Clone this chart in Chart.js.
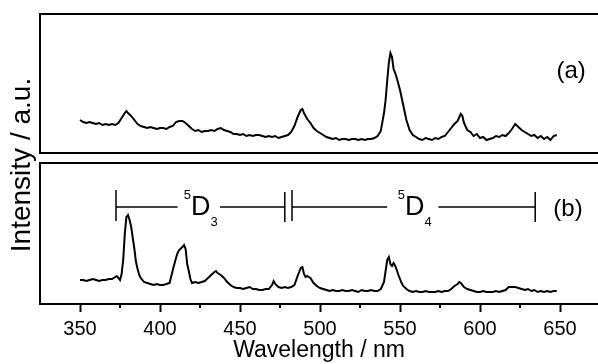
<!DOCTYPE html>
<html>
<head>
<meta charset="utf-8">
<script src="https://cdn.jsdelivr.net/npm/chart.js@4"></script>
<style>
html, body { margin: 0; padding: 0; background: #fff; }
canvas { display: block; }
</style>
</head>
<body>
<canvas id="chart1" width="598" height="364"></canvas>
<script>
// panel (a)
var wavelengthA = [350, 352, 354, 356, 358, 360, 362, 364, 366, 368, 370, 372, 374, 376, 378, 379, 380, 382, 384, 386, 388, 390, 392, 394, 396, 398, 400, 402, 404, 406, 408, 410, 412, 414, 416, 418, 420, 422, 424, 426, 428, 430, 432, 434, 436, 438, 440, 442, 444, 446, 448, 450, 452, 454, 456, 458, 460, 462, 464, 466, 468, 470, 472, 474, 476, 478, 480, 482, 484, 486, 488, 489, 490, 492, 494, 496, 498, 500, 502, 504, 506, 508, 510, 512, 514, 516, 518, 520, 522, 524, 526, 528, 530, 532, 534, 536, 538, 540, 541, 542, 543, 544, 545, 546, 547, 548, 550, 552, 554, 556, 558, 560, 562, 564, 566, 568, 570, 572, 574, 576, 578, 580, 582, 584, 586, 588, 589, 590, 592, 594, 596, 598, 600, 602, 604, 606, 608, 610, 612, 614, 616, 618, 620, 622, 624, 626, 628, 630, 632, 634, 636, 638, 640, 642, 644, 646, 648];
var intensityA = [33, 31, 30, 31, 30, 29, 30, 28, 29, 28, 29, 28, 30, 35, 40, 42, 40, 37, 33, 29, 27, 26, 25, 26, 25, 24, 25, 25, 24, 26, 27, 31, 32, 32, 30, 27, 24, 22, 23, 21, 22, 22, 23, 22, 24, 25, 23, 22, 21, 19, 19, 18, 19, 17, 18, 17, 18, 18, 17, 16, 17, 16, 17, 15, 16, 17, 18, 21, 27, 36, 43, 44, 40, 34, 30, 25, 22, 20, 18, 16, 15, 14, 15, 13, 14, 14, 13, 14, 14, 13, 14, 13, 14, 14, 15, 17, 22, 40, 53, 72, 90, 100, 96, 84, 80, 75, 63, 48, 33, 23, 18, 16, 14, 13, 15, 14, 13, 15, 14, 16, 17, 21, 25, 29, 32, 39, 37, 30, 23, 21, 17, 19, 15, 16, 13, 14, 15, 17, 16, 18, 17, 20, 24, 29, 26, 23, 21, 19, 17, 18, 15, 17, 14, 16, 13, 17, 18];

// panel (b)
var wavelengthB = [350, 352, 354, 356, 358, 360, 362, 364, 366, 368, 370, 372, 373, 374, 375, 376, 377, 378, 379, 380, 381, 382, 383, 384, 385, 386, 387, 388, 390, 392, 394, 396, 398, 400, 402, 404, 406, 408, 410, 411, 412, 414, 415, 416, 417, 418, 419, 420, 422, 424, 426, 428, 430, 432, 434, 435, 436, 438, 440, 442, 444, 446, 448, 450, 452, 454, 456, 458, 460, 462, 464, 466, 468, 470, 471, 472, 474, 476, 478, 480, 482, 484, 486, 488, 489, 490, 491, 492, 493, 494, 496, 498, 500, 502, 504, 506, 508, 510, 512, 514, 516, 518, 520, 522, 524, 526, 528, 530, 532, 534, 536, 538, 540, 541, 542, 543, 544, 545, 546, 547, 548, 549, 550, 551, 552, 554, 556, 558, 560, 562, 564, 566, 568, 570, 572, 574, 576, 578, 580, 582, 584, 586, 587, 588, 590, 592, 594, 596, 598, 600, 602, 604, 606, 608, 610, 612, 614, 616, 618, 620, 622, 624, 626, 628, 630, 632, 634, 636, 638, 640, 642, 644, 646, 648];
var intensityB = [24, 24, 23, 24, 25, 24, 23, 24, 24, 25, 25, 27, 28, 26, 24, 30, 44, 70, 87, 89, 84, 77, 66, 55, 42, 35, 29, 26, 22, 21, 20, 19, 20, 19, 19, 20, 21, 34, 46, 51, 54, 57, 59, 55, 40, 33, 25, 21, 22, 21, 22, 23, 26, 29, 32, 33, 31, 29, 26, 22, 19, 17, 16, 16, 15, 16, 17, 15, 15, 14, 14, 15, 15, 19, 23, 20, 17, 16, 17, 16, 17, 19, 28, 36, 37, 30, 27, 28, 27, 26, 21, 18, 16, 15, 14, 13, 14, 13, 13, 14, 13, 13, 14, 13, 12, 14, 13, 13, 14, 13, 13, 15, 22, 33, 44, 47, 40, 38, 41, 38, 34, 29, 25, 21, 18, 15, 13, 12, 13, 12, 12, 13, 12, 12, 12, 13, 12, 13, 13, 15, 18, 20, 22, 21, 17, 15, 14, 13, 12, 12, 13, 12, 12, 12, 13, 12, 13, 14, 17, 17, 17, 16, 15, 14, 15, 13, 14, 12, 13, 12, 13, 12, 13, 13];

var majorTicks = [350, 400, 450, 500, 550, 600, 650];
var minorTicks = [375, 425, 475, 525, 575, 625];
var xTitle = "Wavelength / nm";
var yTitle = "Intensity / a.u.";
var panelLabels = ["(a)", "(b)"];
var levels = [{ sup: "5", main: "D", sub: "3" }, { sup: "5", main: "D", sub: "4" }];

function toPoints(xs, ys) {
	return xs.map(function (v, i) { return { x: v, y: ys[i] }; });
}

// bracket geometry in data units (nm / intensity of panel b)
var bracketY = 97;
var brackets = [
	{ from: 372.5, gapFrom: 411, gapTo: 437.5, to: 478 },
	{ from: 482.5, gapFrom: 542, gapTo: 574, to: 634.5 }
];

var decorations = {
	id: "decorations",
	afterDraw: function (chart) {
		var c = chart.ctx;
		var area = chart.chartArea;
		var x = chart.scales.x, ya = chart.scales.ya, yb = chart.scales.yb;
		c.save();
		c.strokeStyle = "#000";
		c.fillStyle = "#000";

		// panel frames + minor ticks
		c.lineWidth = 2;
		c.beginPath();
		[ya.top, ya.bottom, yb.top].forEach(function (y) {
			c.moveTo(area.left - 1, y);
			c.lineTo(area.right, y);
		});
		minorTicks.forEach(function (v) {
			var px = x.getPixelForValue(v);
			c.moveTo(px, x.top);
			c.lineTo(px, x.top + 4);
		});
		c.stroke();

		// 5D3 / 5D4 brackets
		var by = yb.getPixelForValue(bracketY);
		c.lineWidth = 1.5;
		c.beginPath();
		brackets.forEach(function (b) {
			var x0 = x.getPixelForValue(b.from), x1 = x.getPixelForValue(b.gapFrom);
			var x2 = x.getPixelForValue(b.gapTo), x3 = x.getPixelForValue(b.to);
			c.moveTo(x0, by); c.lineTo(x1, by);
			c.moveTo(x2, by); c.lineTo(x3, by);
			c.moveTo(x0, by - 17); c.lineTo(x0, by + 14);
			c.moveTo(x3, by - 15); c.lineTo(x3, by + 15);
		});
		c.stroke();

		c.textBaseline = "middle";
		c.textAlign = "left";
		brackets.forEach(function (b, i) {
			var lv = levels[i];
			c.font = "13px 'Liberation Sans', Arial, sans-serif";
			var w1 = c.measureText(lv.sup).width, w3 = c.measureText(lv.sub).width;
			c.font = "27px 'Liberation Sans', Arial, sans-serif";
			var w2 = c.measureText(lv.main).width;
			var cx = (x.getPixelForValue(b.gapFrom) + x.getPixelForValue(b.gapTo)) / 2 + 2;
			var left = cx - (w1 + w2 + w3) / 2;
			c.fillText(lv.main, left + w1, by + 1);
			c.font = "13px 'Liberation Sans', Arial, sans-serif";
			c.fillText(lv.sup, left, by - 12);
			c.fillText(lv.sub, left + w1 + w2, by + 15);
		});

		// panel labels
		c.font = "24px 'Liberation Sans', Arial, sans-serif";
		c.textAlign = "center";
		c.fillText(panelLabels[0], x.getPixelForValue(657), ya.getPixelForValue(82));
		c.fillText(panelLabels[1], x.getPixelForValue(655), yb.getPixelForValue(95));

		// shared y title
		c.translate(22, (ya.top + yb.bottom) / 2 + 6);
		c.rotate(-Math.PI / 2);
		c.font = "28px 'Liberation Sans', Arial, sans-serif";
		c.fillText(yTitle, 0, 0);
		c.restore();
	}
};

var hiddenAxis = {
	ticks: { display: false },
	grid: { display: false },
	border: { display: true, width: 2, color: "#000" }
};

Chart.defaults.font.family = "'Liberation Sans', Arial, sans-serif";
Chart.defaults.color = "#000";

var ctx = document.getElementById("chart1").getContext("2d");
var chartdata = {
	type: "line",
	data: {
		datasets: [
			{
				data: toPoints(wavelengthA, intensityA),
				yAxisID: "ya",
				borderColor: "#000",
				borderWidth: 2,
				pointRadius: 0,
				tension: 0
			},
			{
				data: toPoints(wavelengthB, intensityB),
				yAxisID: "yb",
				borderColor: "#000",
				borderWidth: 2,
				pointRadius: 0,
				tension: 0
			}
		]
	},
	options: {
		responsive: false,
		animation: false,
		layout: { padding: { top: 14, left: 32, right: 0, bottom: 2 } },
		plugins: { legend: { display: false }, tooltip: { enabled: false } },
		scales: {
			x: {
				type: "linear",
				min: 325,
				max: 673.75,
				afterBuildTicks: function (scale) {
					scale.ticks = majorTicks.map(function (v) { return { value: v }; });
				},
				ticks: { font: { size: 20, lineHeight: 1 }, padding: 7, color: "#000", maxRotation: 0 },
				grid: { drawOnChartArea: false, tickLength: 8, tickWidth: 2, color: "#000" },
				border: { display: true, width: 2, color: "#000" },
				title: { display: true, text: xTitle, font: { size: 23, lineHeight: 1 }, padding: { top: -7, bottom: 0 }, color: "#000" }
			},
			yb: Object.assign({ type: "linear", position: "left", stack: "v", stackWeight: 141, min: 0, max: 141 }, hiddenAxis),
			gap: { type: "linear", position: "left", stack: "v", stackWeight: 10, ticks: { display: false }, grid: { display: false }, border: { display: false } },
			ya: Object.assign({ type: "linear", position: "left", stack: "v", stackWeight: 139, min: 0, max: 139 }, hiddenAxis)
		}
	},
	plugins: [decorations]
};

new Chart(ctx, chartdata);
</script>
</body>
</html>
